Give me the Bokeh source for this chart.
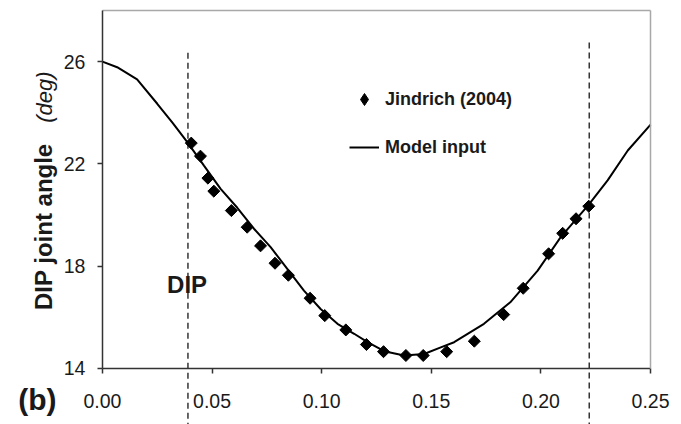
import numpy as np
from bokeh.plotting import figure
from bokeh.models import (Range1d, FixedTicker, LinearAxis, Label, Legend, LegendItem,
                          NumeralTickFormatter, Grid)
from bokeh.embed import file_html
from bokeh.resources import INLINE

# ---- data ----
x_ticks = [0.00, 0.05, 0.10, 0.15, 0.20, 0.25]
y_ticks = [14, 18, 22, 26]

model_t = [0.000, 0.0067, 0.0158, 0.025, 0.032, 0.0387, 0.0463, 0.0539, 0.0615, 0.0691,
           0.0767, 0.0843, 0.0919, 0.0995, 0.1072, 0.1148, 0.1209, 0.1285, 0.1376, 0.1467,
           0.1543, 0.1604, 0.174, 0.186, 0.1985, 0.209, 0.2218, 0.2304, 0.2396, 0.25]
model_angle = [26.00, 25.78, 25.30, 24.35, 23.60, 22.85, 21.93, 21.02, 20.28, 19.46,
               18.74, 17.89, 17.04, 16.32, 15.74, 15.35, 15.02, 14.67, 14.50, 14.56,
               14.82, 15.02, 15.74, 16.58, 17.82, 19.13, 20.40, 21.35, 22.52, 23.53]

jind_t = [0.0405, 0.0447, 0.0481, 0.0508, 0.0588, 0.0660, 0.0721, 0.0787, 0.0848, 0.0947,
          0.1014, 0.1110, 0.1204, 0.1282, 0.1384, 0.1463, 0.1570, 0.1696, 0.1830, 0.1919,
          0.2035, 0.2099, 0.2160, 0.2218]
jind_angle = [22.81, 22.30, 21.44, 20.93, 20.17, 19.52, 18.79, 18.11, 17.64, 16.74,
              16.06, 15.50, 14.93, 14.65, 14.50, 14.50, 14.65, 15.06, 16.10, 17.13,
              18.48, 19.28, 19.85, 20.34]

phase_t = [0.039, 0.222]
phase_top = [26.35, 26.75]

X_MIN, X_MAX = 0.0, 0.25
Y_MIN, Y_MAX = 14, 28

FONT = "Liberation Sans"
AX = "#333333"
TXT = "#1a1a1a"

# frame covers the whole canvas; axes are placed at fixed data locations
p = figure(width=681, height=424, output_backend="svg", toolbar_location=None,
           x_range=Range1d(-0.0465, 0.2641), y_range=Range1d(11.8, 28.39),
           x_axis_location=None, y_axis_location=None,
           min_border_left=0, min_border_right=0, min_border_top=0, min_border_bottom=0)
p.outline_line_color = None
p.background_fill_color = "white"
p.border_fill_color = "white"
p.renderers = [r for r in p.renderers if not isinstance(r, Grid)]
p.center = [r for r in p.center if not isinstance(r, Grid)]

# left axis
yax = LinearAxis(ticker=FixedTicker(ticks=y_ticks), bounds=(Y_MIN, Y_MAX), fixed_location=X_MIN)
yax.axis_line_color = AX
yax.axis_line_width = 1.5
yax.major_tick_line_color = AX
yax.major_tick_line_width = 1.5
yax.major_tick_out = 5
yax.major_tick_in = 0
yax.minor_tick_line_color = None
yax.major_label_standoff = 12
yax.major_label_text_font = FONT
yax.major_label_text_font_size = "19.5px"
yax.major_label_text_color = TXT
p.add_layout(yax, "left")

# bottom axis
xax = LinearAxis(ticker=FixedTicker(ticks=x_ticks), bounds=(X_MIN, X_MAX), fixed_location=Y_MIN,
                 formatter=NumeralTickFormatter(format="0.00"))
xax.axis_line_color = AX
xax.axis_line_width = 1.5
xax.major_tick_line_color = AX
xax.major_tick_line_width = 1.5
xax.major_tick_out = 5
xax.major_tick_in = 0
xax.minor_tick_line_color = None
xax.major_label_standoff = 21
xax.major_label_text_font = FONT
xax.major_label_text_font_size = "19.5px"
xax.major_label_text_color = TXT
p.add_layout(xax, "below")

# light top / right border
tax = LinearAxis(ticker=FixedTicker(ticks=[]), bounds=(X_MIN, X_MAX), fixed_location=Y_MAX)
tax.axis_line_color = "#a8a8a8"
tax.axis_line_width = 1.5
tax.major_tick_out = 0
tax.minor_tick_line_color = None
p.add_layout(tax, "above")

rax = LinearAxis(ticker=FixedTicker(ticks=[]), bounds=(Y_MIN, Y_MAX), fixed_location=X_MAX)
rax.axis_line_color = "#a8a8a8"
rax.axis_line_width = 1.5
rax.major_tick_out = 0
rax.minor_tick_line_color = None
p.add_layout(rax, "right")

# dashed phase lines (run down past the axis to the page edge)
p.ray(x=phase_t, y=phase_top, length=0, angle=-np.pi / 2, line_color="black",
      line_width=1.2, line_dash="6 4")

ln = p.line(model_t, model_angle, line_color="black", line_width=2)
# data diamonds: squares turned by 45 degrees
p.scatter(jind_t, jind_angle, marker="square", angle=np.pi / 4, size=8.5,
          fill_color="black", line_color="black", line_width=1)
# legend swatch (a single NaN point, so it draws nothing in the plot)
sw = p.scatter(x=[np.nan], y=[np.nan], marker="diamond", size=14,
               fill_color="black", line_color="black", line_width=1)

legend = Legend(items=[LegendItem(label="Jindrich (2004)", renderers=[sw]),
                       LegendItem(label="Model input", renderers=[ln])],
                location=(349, 261), padding=0, margin=0, spacing=16,
                glyph_width=30, glyph_height=32, label_height=32, label_standoff=6,
                label_text_font=FONT, label_text_font_size="18px",
                label_text_font_style="bold", label_text_color=TXT,
                background_fill_alpha=0, border_line_alpha=0)
p.add_layout(legend)

# texts
p.add_layout(Label(x=-0.0297, y=12.775, text="(b)", text_align="center",
                   text_baseline="middle", text_font=FONT, text_font_size="30px",
                   text_font_style="bold", text_color=TXT))
p.add_layout(Label(x=0.0386, y=17.28, text="DIP", text_align="center",
                   text_baseline="middle", text_font=FONT, text_font_size="24px",
                   text_font_style="bold", text_color=TXT))
p.add_layout(Label(x=-0.0269, y=19.54, text="DIP joint angle", angle=np.pi / 2,
                   text_align="center", text_baseline="alphabetic", text_font=FONT,
                   text_font_size="24px", text_font_style="bold", text_color=TXT))
p.add_layout(Label(x=-0.0266, y=24.61, text="(deg)", angle=np.pi / 2,
                   text_align="center", text_baseline="alphabetic", text_font=FONT,
                   text_font_size="22px", text_font_style="italic", text_color=TXT))

open("out.html", "w").write(file_html(p, INLINE))
